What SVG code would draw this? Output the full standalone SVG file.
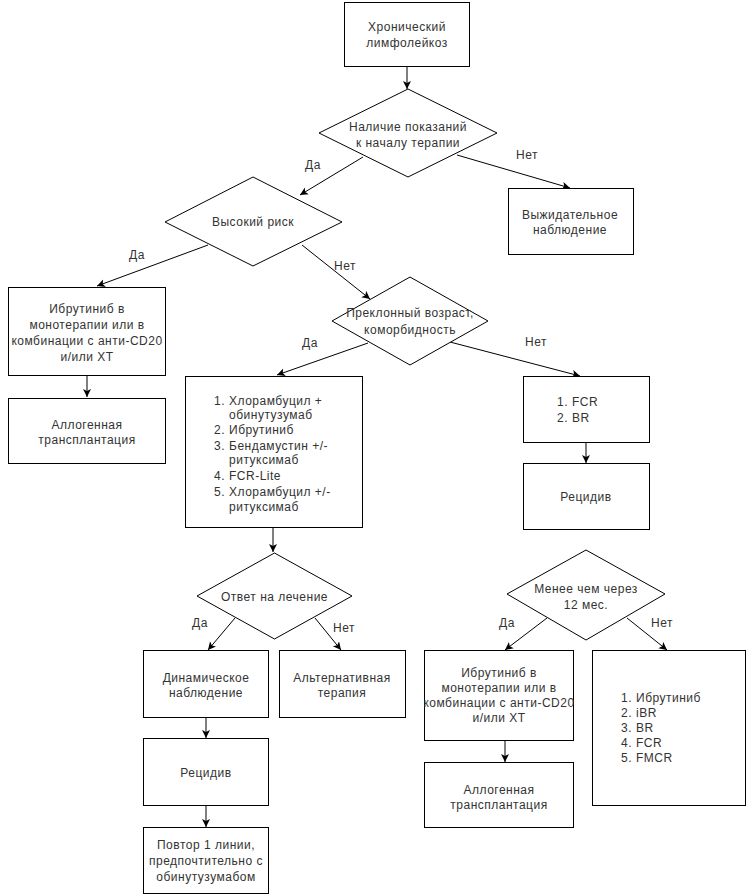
<svg xmlns="http://www.w3.org/2000/svg" width="751" height="896" viewBox="0 0 751 896">
<defs>
<style>
.n{fill:#fff;stroke:#000;stroke-width:1}
.t{font-family:"Liberation Sans",Arial,sans-serif;font-size:12px;letter-spacing:0.5px;fill:#333;text-anchor:middle}
.l{font-family:"Liberation Sans",Arial,sans-serif;font-size:12px;letter-spacing:0.5px;fill:#333;text-anchor:start}
.c{fill:none;stroke:#000;stroke-width:1;marker-end:url(#ah)}
</style>
<marker id="ah" markerUnits="userSpaceOnUse" markerWidth="10" markerHeight="10" refX="8" refY="4" orient="auto">
<path d="M0,0 L8,4 L0,8 L2,4 Z" fill="#000"/>
</marker>
</defs>
<rect width="751" height="896" fill="#fff"/>

<g id="connectors">
<line class="c" x1="407" y1="67" x2="407" y2="89"/>
<line class="c" x1="363" y1="157" x2="300" y2="195"/>
<line class="c" x1="457" y1="155" x2="570" y2="188"/>
<line class="c" x1="208" y1="245" x2="97" y2="286"/>
<line class="c" x1="302" y1="245" x2="370" y2="299"/>
<line class="c" x1="87" y1="375" x2="87" y2="397"/>
<line class="c" x1="368" y1="343" x2="277" y2="375"/>
<line class="c" x1="450" y1="342" x2="580" y2="376"/>
<line class="c" x1="586" y1="442" x2="586" y2="463"/>
<line class="c" x1="273" y1="527" x2="273" y2="552"/>
<line class="c" x1="235" y1="618" x2="208" y2="650"/>
<line class="c" x1="315" y1="618" x2="341" y2="650"/>
<line class="c" x1="206" y1="717" x2="206" y2="738"/>
<line class="c" x1="206" y1="805" x2="206" y2="827"/>
<line class="c" x1="547" y1="618" x2="505" y2="650"/>
<line class="c" x1="627" y1="618" x2="667" y2="650"/>
<line class="c" x1="505" y1="740" x2="505" y2="762"/>
<text class="t" x="313" y="169">Да</text>
<text class="t" x="527" y="159">Нет</text>
<text class="t" x="137" y="259">Да</text>
<text class="t" x="345" y="270">Нет</text>
<text class="t" x="310" y="347">Да</text>
<text class="t" x="536" y="346">Нет</text>
<text class="t" x="200" y="627">Да</text>
<text class="t" x="344" y="632">Нет</text>
<text class="t" x="507" y="627">Да</text>
<text class="t" x="662" y="627">Нет</text>
</g>

<g id="n1">
<rect class="n" x="344.5" y="2.5" width="125" height="64"/>
<text class="t" x="407" y="31">Хронический</text>
<text class="t" x="407" y="47">лимфолейкоз</text>
</g>

<g id="d1">
<polygon class="n" points="408,89 497,133 408,177 319,133"/>
<text class="t" x="408" y="131">Наличие показаний</text>
<text class="t" x="408" y="147">к началу терапии</text>
</g>

<g id="n2">
<rect class="n" x="508.5" y="188.5" width="125" height="66"/>
<text class="t" x="570" y="219">Выжидательное</text>
<text class="t" x="570" y="234">наблюдение</text>
</g>

<g id="d2">
<polygon class="n" points="253,177 342,222 253,266 165,222"/>
<text class="t" x="253" y="226">Высокий риск</text>
</g>

<g id="n3">
<rect class="n" x="8.5" y="287.5" width="157" height="88"/>
<text class="t" x="87" y="313">Ибрутиниб в</text>
<text class="t" x="87" y="329">монотерапии или в</text>
<text class="t" x="87" y="345">комбинации с анти-CD20</text>
<text class="t" x="87" y="361">и/или XT</text>
</g>

<g id="n4">
<rect class="n" x="8.5" y="398.5" width="157" height="65"/>
<text class="t" x="87" y="429">Аллогенная</text>
<text class="t" x="87" y="444">трансплантация</text>
</g>

<g id="d3">
<polygon class="n" points="410,277 488,321 410,365 332,321"/>
<text class="t" x="410" y="317">Преклонный возраст,</text>
<text class="t" x="410" y="334">коморбидность</text>
</g>

<g id="n5">
<rect class="n" x="185.5" y="376.5" width="177" height="151"/>
<text class="l" x="214" y="405">1.</text><text class="l" x="229" y="405">Хлорамбуцил +</text>
<text class="l" x="229" y="419">обинутузумаб</text>
<text class="l" x="214" y="434">2.</text><text class="l" x="229" y="434">Ибрутиниб</text>
<text class="l" x="214" y="450">3.</text><text class="l" x="229" y="450">Бендамустин +/-</text>
<text class="l" x="229" y="464">ритуксимаб</text>
<text class="l" x="214" y="480">4.</text><text class="l" x="229" y="480">FCR-Lite</text>
<text class="l" x="214" y="496">5.</text><text class="l" x="229" y="496">Хлорамбуцил +/-</text>
<text class="l" x="229" y="511">ритуксимаб</text>
</g>

<g id="n6">
<rect class="n" x="523.5" y="376.5" width="126" height="66"/>
<text class="l" x="557" y="406">1.</text><text class="l" x="572" y="406">FCR</text>
<text class="l" x="557" y="422">2.</text><text class="l" x="572" y="422">BR</text>
</g>

<g id="n7">
<rect class="n" x="523.5" y="463.5" width="126" height="66"/>
<text class="t" x="586" y="501">Рецидив</text>
</g>

<g id="d4">
<polygon class="n" points="274.5,553 352,596 274.5,639 197,596"/>
<text class="t" x="274.5" y="601">Ответ на лечение</text>
</g>

<g id="n8">
<rect class="n" x="143.5" y="650.5" width="125" height="67"/>
<text class="t" x="206" y="682">Динамическое</text>
<text class="t" x="206" y="697">наблюдение</text>
</g>

<g id="n9">
<rect class="n" x="279.5" y="650.5" width="126" height="67"/>
<text class="t" x="342" y="682">Альтернативная</text>
<text class="t" x="342" y="697">терапия</text>
</g>

<g id="n10">
<rect class="n" x="143.5" y="738.5" width="125" height="67"/>
<text class="t" x="206" y="777">Рецидив</text>
</g>

<g id="n11">
<rect class="n" x="143.5" y="827.5" width="125" height="66"/>
<text class="t" x="206" y="849">Повтор 1 линии,</text>
<text class="t" x="206" y="865">предпочтительно с</text>
<text class="t" x="206" y="881">обинутузумабом</text>
</g>

<g id="d5">
<polygon class="n" points="586,550 665,594 586,640 507,594"/>
<text class="t" x="586" y="593">Менее чем через</text>
<text class="t" x="586" y="609">12 мес.</text>
</g>

<g id="n12">
<rect class="n" x="424.5" y="650.5" width="149" height="90"/>
<text class="t" x="499" y="677">Ибрутиниб в</text>
<text class="t" x="499" y="692">монотерапии или в</text>
<text class="t" x="499" y="707">комбинации с анти-CD20</text>
<text class="t" x="499" y="722">и/или XT</text>
</g>

<g id="n13">
<rect class="n" x="424.5" y="762.5" width="149" height="65"/>
<text class="t" x="499" y="794">Аллогенная</text>
<text class="t" x="499" y="809">трансплантация</text>
</g>

<g id="n14">
<rect class="n" x="592.5" y="650.5" width="153" height="155"/>
<text class="l" x="621" y="702">1.</text><text class="l" x="636" y="702">Ибрутиниб</text>
<text class="l" x="621" y="717">2.</text><text class="l" x="636" y="717">iBR</text>
<text class="l" x="621" y="732">3.</text><text class="l" x="636" y="732">BR</text>
<text class="l" x="621" y="747">4.</text><text class="l" x="636" y="747">FCR</text>
<text class="l" x="621" y="762">5.</text><text class="l" x="636" y="762">FMCR</text>
</g>
</svg>
